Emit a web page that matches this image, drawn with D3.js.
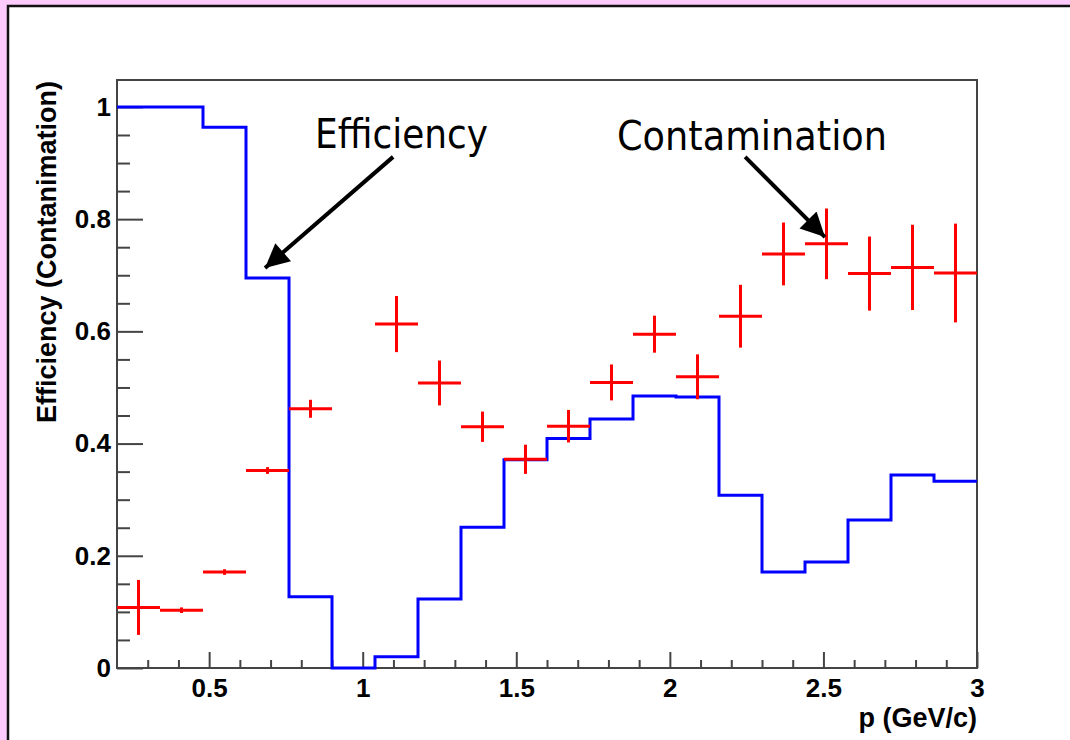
<!DOCTYPE html>
<html>
<head>
<meta charset="utf-8">
<script src="https://cdn.jsdelivr.net/npm/d3@7"></script>
<style>
  html, body { margin: 0; padding: 0; background: #fdcbfd; }
  svg { display: block; }
</style>
</head>
<body>
<script>
// ---- data ----
const binEdges = [0.2, 0.34, 0.48, 0.62, 0.76, 0.90, 1.04, 1.18, 1.32, 1.46, 1.60,
                  1.74, 1.88, 2.02, 2.16, 2.30, 2.44, 2.58, 2.72, 2.86, 3.0];
const efficiency = [1.0, 1.0, 0.964, 0.695, 0.127, 0.0, 0.02, 0.123, 0.251, 0.371,
                    0.409, 0.444, 0.485, 0.483, 0.308, 0.171, 0.189, 0.264, 0.344, 0.333];
const contamination = [0.108, 0.103, 0.171, 0.352, 0.462, null, 0.613, 0.508, 0.430, 0.372,
                       0.431, 0.509, 0.595, 0.519, 0.627, 0.738, 0.756, 0.703, 0.714, 0.704];
const contaminationErr = [0.049, 0.005, 0.005, 0.006, 0.016, null, 0.05, 0.04, 0.027, 0.026,
                          0.029, 0.032, 0.033, 0.04, 0.056, 0.056, 0.063, 0.066, 0.076, 0.088];
const xMajorTicks = [0.5, 1, 1.5, 2, 2.5, 3];
const xTickLabels = ["0.5", "1", "1.5", "2", "2.5", "3"];
const xMinorTicks = [0.3, 0.4, 0.6, 0.7, 0.8, 0.9, 1.1, 1.2, 1.3, 1.4, 1.6, 1.7, 1.8, 1.9,
                     2.1, 2.2, 2.3, 2.4, 2.6, 2.7, 2.8, 2.9];
const yMajorTicks = [0, 0.2, 0.4, 0.6, 0.8, 1];
const yTickLabels = ["0", "0.2", "0.4", "0.6", "0.8", "1"];
const yMinorTicks = [0.05, 0.1, 0.15, 0.25, 0.3, 0.35, 0.45, 0.5, 0.55, 0.65, 0.7, 0.75,
                     0.85, 0.9, 0.95];
const xTitle = "p (GeV/c)";
const yTitle = "Efficiency (Contanimation)";
const annotations = [
  { text: "Efficiency", tx: 0.845, ty: 0.927, from: [1.099, 0.911], to: [0.682, 0.713] },
  { text: "Contamination", tx: 1.828, ty: 0.924, from: [2.245, 0.911], to: [2.505, 0.768] }
];

// ---- layout ----
const W = 1070, H = 740;
const L = 117, R = 977, T = 80, B = 668;
const x = d3.scaleLinear().domain([0.2, 3.0]).range([L, R]);
const y = d3.scaleLinear().domain([0, 1.048]).range([B, T]);

const svg = d3.select("body").append("svg").attr("width", W).attr("height", H);

// outer white pad with black border
svg.append("rect").attr("x", 8).attr("y", 6).attr("width", W + 10).attr("height", H + 10)
  .attr("fill", "#ffffff").attr("stroke", "#111").attr("stroke-width", 2.5);

// plot frame
svg.append("rect").attr("x", L).attr("y", T).attr("width", R - L).attr("height", B - T)
  .attr("fill", "#ffffff").attr("stroke", "#444").attr("stroke-width", 2);

const fontTick = "'Liberation Sans', Arial, sans-serif";

// x axis major
const gxMaj = svg.append("g").attr("transform", `translate(0,${B})`)
  .call(d3.axisBottom(x).tickValues(xMajorTicks)
    .tickFormat((d, i) => xTickLabels[i]).tickSizeInner(-16).tickSizeOuter(0).tickPadding(10.5));
gxMaj.select(".domain").remove();
gxMaj.selectAll("line").attr("stroke", "#444").attr("stroke-width", 2);
gxMaj.selectAll("text").attr("font-family", fontTick).attr("font-weight", "bold")
  .attr("font-size", 26).attr("fill", "#000");

const gxMin = svg.append("g").attr("transform", `translate(0,${B})`)
  .call(d3.axisBottom(x).tickValues(xMinorTicks).tickFormat("").tickSizeInner(-8).tickSizeOuter(0));
gxMin.select(".domain").remove();
gxMin.selectAll("line").attr("stroke", "#444").attr("stroke-width", 2);

// y axis major
const gyMaj = svg.append("g").attr("transform", `translate(${L},0)`)
  .call(d3.axisLeft(y).tickValues(yMajorTicks)
    .tickFormat((d, i) => yTickLabels[i]).tickSizeInner(-26).tickSizeOuter(0).tickPadding(6));
gyMaj.select(".domain").remove();
gyMaj.selectAll("line").attr("stroke", "#444").attr("stroke-width", 2);
gyMaj.selectAll("text").attr("font-family", fontTick).attr("font-weight", "bold")
  .attr("font-size", 26).attr("fill", "#000");

const gyMin = svg.append("g").attr("transform", `translate(${L},0)`)
  .call(d3.axisLeft(y).tickValues(yMinorTicks).tickFormat("").tickSizeInner(-13).tickSizeOuter(0));
gyMin.select(".domain").remove();
gyMin.selectAll("line").attr("stroke", "#444").attr("stroke-width", 2);

// axis titles
svg.append("text").attr("x", R).attr("y", 727).attr("text-anchor", "end")
  .attr("font-family", fontTick).attr("font-weight", "bold").attr("font-size", 27)
  .text(xTitle);
svg.append("text").attr("transform", `translate(56,${T + 1}) rotate(-90)`)
  .attr("text-anchor", "end")
  .attr("font-family", fontTick).attr("font-weight", "bold").attr("font-size", 27)
  .text(yTitle);

// efficiency histogram (step)
const stepPts = efficiency.map((v, i) => [binEdges[i], v]);
stepPts.push([binEdges[binEdges.length - 1], efficiency[efficiency.length - 1]]);
svg.append("path").datum(stepPts)
  .attr("d", d3.line().x(d => x(d[0])).y(d => y(d[1])).curve(d3.curveStepAfter))
  .attr("fill", "none").attr("stroke", "#0000ff").attr("stroke-width", 3);

// contamination points with error bars
const pts = contamination.map((v, i) => ({
  lo: binEdges[i], hi: binEdges[i + 1], c: (binEdges[i] + binEdges[i + 1]) / 2,
  v: v, e: contaminationErr[i]
})).filter(d => d.v !== null);

const gp = svg.append("g").attr("stroke", "#ff0000").attr("stroke-width", 3);
gp.selectAll("line.h").data(pts).join("line").attr("class", "h")
  .attr("x1", d => x(d.lo)).attr("x2", d => x(d.hi))
  .attr("y1", d => y(d.v)).attr("y2", d => y(d.v));
gp.selectAll("line.v").data(pts).join("line").attr("class", "v")
  .attr("x1", d => x(d.c)).attr("x2", d => x(d.c))
  .attr("y1", d => y(d.v - d.e)).attr("y2", d => y(d.v + d.e));

// annotations
const defs = svg.append("defs");
defs.append("marker").attr("id", "ah").attr("viewBox", "0 0 10 10")
  .attr("refX", 10).attr("refY", 5).attr("markerWidth", 8.5).attr("markerHeight", 6)
  .attr("markerUnits", "strokeWidth").attr("orient", "auto")
  .append("path").attr("d", "M0,0 L10,5 L0,10 Z").attr("fill", "#000");

const annoLen = { "Efficiency": 173, "Contamination": 270 };
annotations.forEach(a => {
  svg.append("text").attr("x", x(a.tx)).attr("y", y(a.ty))
    .attr("font-family", "'DejaVu Sans', Tahoma, Verdana, sans-serif")
    .attr("font-size", 40).attr("fill", "#000")
    .attr("textLength", annoLen[a.text]).attr("lengthAdjust", "spacingAndGlyphs")
    .text(a.text);
  svg.append("line")
    .attr("x1", x(a.from[0])).attr("y1", y(a.from[1]))
    .attr("x2", x(a.to[0])).attr("y2", y(a.to[1]))
    .attr("stroke", "#000").attr("stroke-width", 4).attr("marker-end", "url(#ah)");
});
</script>
</body>
</html>
